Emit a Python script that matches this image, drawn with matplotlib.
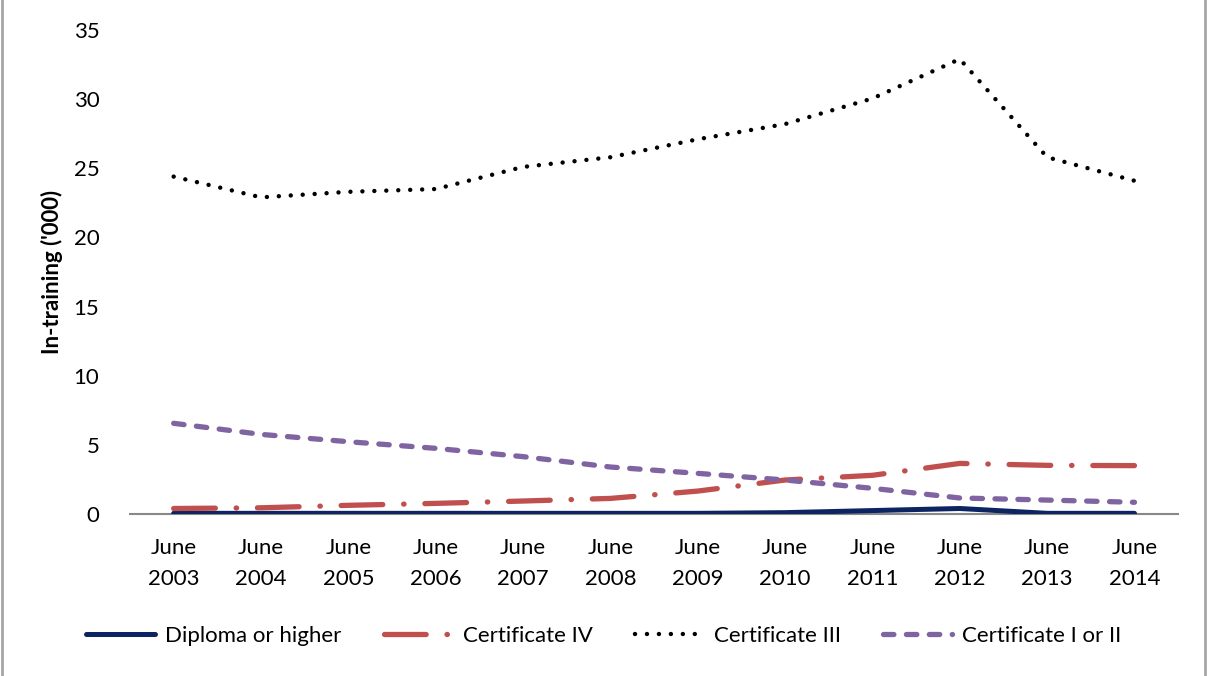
import matplotlib.pyplot as plt
from matplotlib.patches import Rectangle

plt.rcParams['font.family'] = ['Lato', 'DejaVu Sans']
plt.rcParams['lines.scale_dashes'] = False

# datos
years = ['June\n2003', 'June\n2004', 'June\n2005', 'June\n2006', 'June\n2007', 'June\n2008',
         'June\n2009', 'June\n2010', 'June\n2011', 'June\n2012', 'June\n2013', 'June\n2014']
diploma = [0.05, 0.05, 0.05, 0.05, 0.05, 0.05, 0.05, 0.1, 0.25, 0.4, 0.05, 0.05]
cert_iv = [0.4, 0.45, 0.63, 0.77, 0.94, 1.13, 1.66, 2.46, 2.8, 3.66, 3.52, 3.5]
cert_iii = [24.4, 22.9, 23.3, 23.5, 25.1, 25.8, 27.1, 28.2, 30.05, 32.9, 25.8, 24.1]
cert_i_ii = [6.56, 5.76, 5.23, 4.75, 4.15, 3.4, 2.94, 2.46, 1.86, 1.16, 1.01, 0.85]

x = list(range(len(years)))

fig = plt.figure(figsize=(12.07, 6.76), dpi=100)
ax = fig.add_axes([0.1077, 0.2396, 0.8684, 0.716])

ax.plot(x, diploma, color='#0d2463', lw=3.6, solid_capstyle='round', label='Diploma or higher')
ax.plot(x, cert_iv, color='#c0504d', lw=3.8, dash_capstyle='round',
        ls=(0, (30, 15, 0.3, 15)), label='Certificate IV')
ax.plot(x, cert_iii, color='black', lw=3.2, dash_capstyle='round',
        ls=(0, (0.01, 8.6)), label='Certificate III')
ax.plot(x, cert_i_ii, color='#8064a2', lw=3.8, dash_capstyle='round',
        ls=(0, (7.5, 9)), label='Certificate I or II')

ax.set_xlim(-0.5, 11.5)
ax.set_ylim(0, 35)
ax.set_yticks(range(0, 36, 5))
ax.set_xticks(x)
ax.set_xticklabels(years, fontsize=16, linespacing=1.7)
ax.tick_params(axis='y', labelsize=16, length=0, pad=22)
ax.tick_params(axis='x', length=0, pad=17)

for s in ['top', 'right', 'left']:
    ax.spines[s].set_visible(False)
ax.spines['bottom'].set_color('#888888')
ax.spines['bottom'].set_linewidth(1.5)
ax.spines['bottom'].set_zorder(1)

ax.set_ylabel("In-training ('000)", fontsize=16, fontweight='bold', labelpad=8)

fig.legend(loc='center', bbox_to_anchor=(0.5, 0.059), ncol=4, frameon=False,
           fontsize=16, handlelength=3.1, columnspacing=1.9, handletextpad=0.45)

fig.add_artist(Rectangle((0.002, -0.01), 0.996, 1.02, transform=fig.transFigure,
                         fill=False, edgecolor='#a6a6a6', lw=2))

plt.savefig('out.png', dpi=100)
